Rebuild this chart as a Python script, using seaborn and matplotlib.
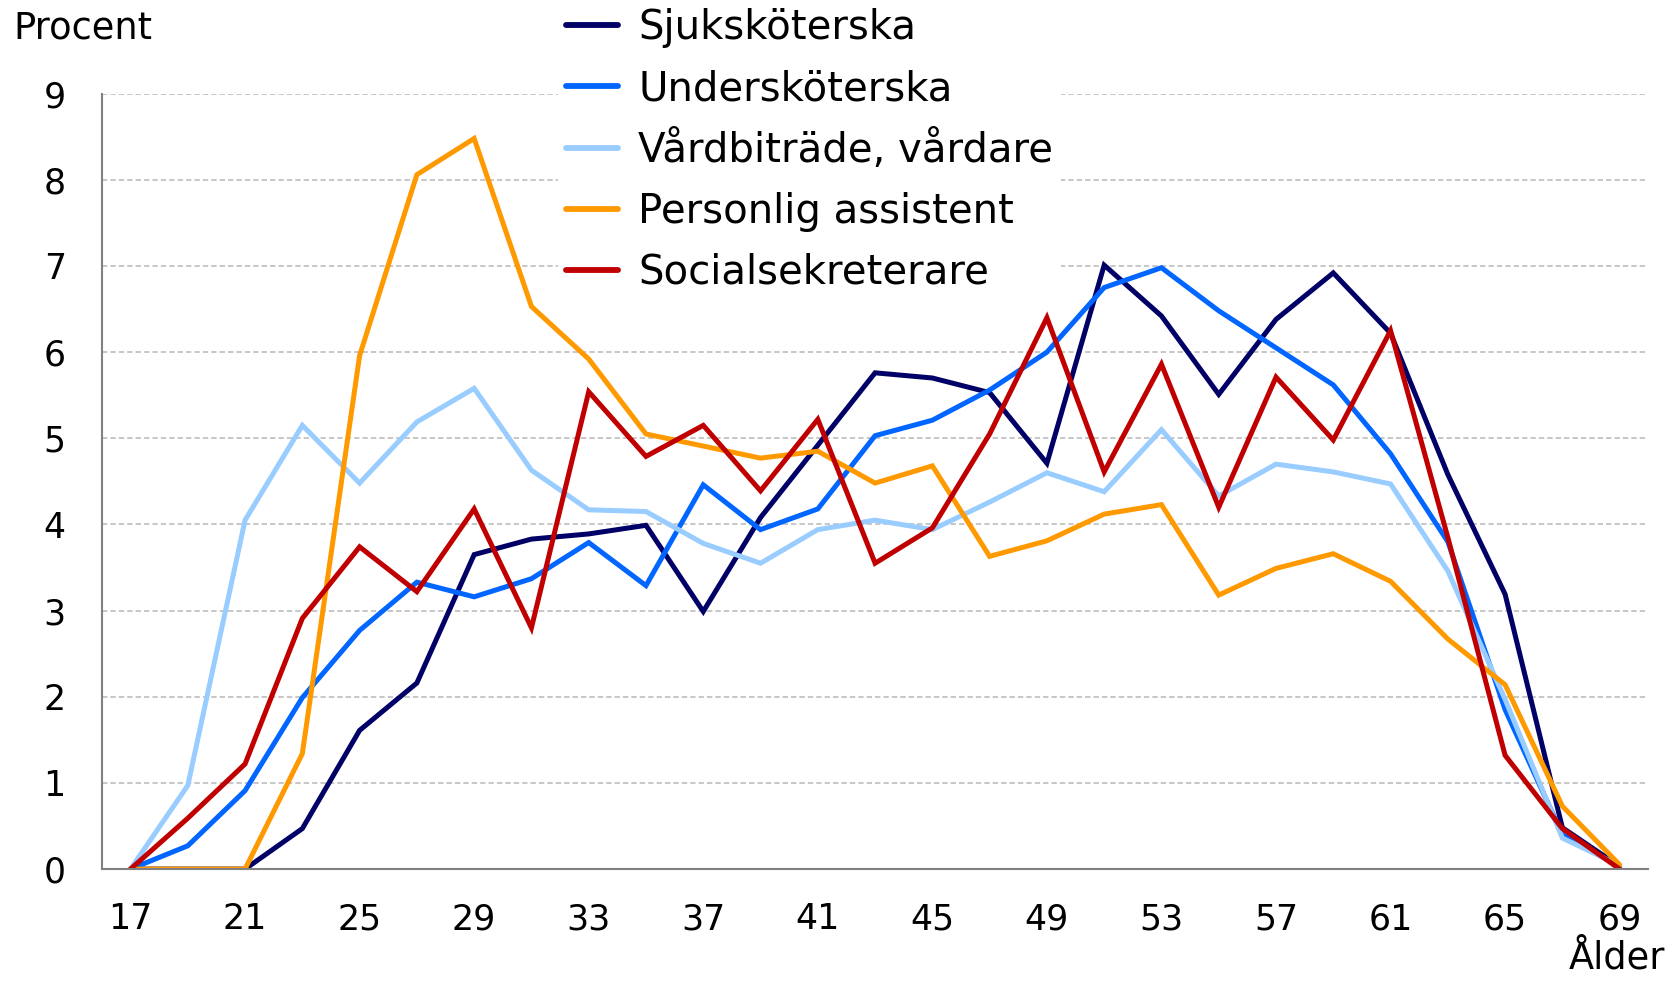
import numpy as np
import pandas as pd
import matplotlib
matplotlib.use("Agg")
import matplotlib.pyplot as plt
import seaborn as sns

ages = list(range(17, 70, 2))

sjukskoterska = [0, 0, 0, 0.47, 1.61, 2.16, 3.65, 3.83, 3.89, 3.99, 2.99, 4.08, 4.92, 5.76,
                 5.70, 5.53, 4.71, 7.01, 6.42, 5.51, 6.38, 6.92, 6.22, 4.58, 3.19, 0.48, 0.03]
underskoterska = [0, 0.27, 0.91, 1.99, 2.77, 3.33, 3.16, 3.37, 3.79, 3.29, 4.46, 3.94, 4.18, 5.03,
                  5.21, 5.56, 6.00, 6.75, 6.98, 6.48, 6.05, 5.62, 4.82, 3.80, 1.85, 0.40, 0.03]
vardbitrade = [0, 0.97, 4.05, 5.15, 4.48, 5.19, 5.58, 4.63, 4.17, 4.15, 3.78, 3.55, 3.94, 4.05,
               3.94, 4.26, 4.60, 4.38, 5.10, 4.33, 4.70, 4.61, 4.47, 3.46, 1.97, 0.36, 0.04]
personlig = [0, 0, 0, 1.34, 5.96, 8.06, 8.48, 6.53, 5.92, 5.05, 4.91, 4.77, 4.85, 4.48,
             4.68, 3.63, 3.81, 4.12, 4.23, 3.18, 3.49, 3.66, 3.34, 2.67, 2.14, 0.73, 0.05]
social = [0, 0.59, 1.22, 2.91, 3.74, 3.22, 4.18, 2.80, 5.54, 4.79, 5.15, 4.39, 5.22, 3.55,
          3.96, 5.05, 6.40, 4.61, 5.86, 4.20, 5.71, 4.98, 6.25, 3.85, 1.32, 0.47, 0.0]

series_names = ["Sjuksköterska", "Undersköterska", "Vårdbiträde, vårdare",
                "Personlig assistent", "Socialsekreterare"]
colors = ["#000066", "#0066FF", "#99CCFF", "#FF9900", "#C00000"]

df = pd.concat([
    pd.DataFrame({"Ålder": ages, "Procent": vals, "Yrke": name})
    for name, vals in zip(series_names, [sjukskoterska, underskoterska, vardbitrade, personlig, social])
])

sns.set_style("white")
plt.rcParams["font.family"] = ["DejaVu Sans"]
plt.rcParams["text.color"] = "black"
plt.rcParams["xtick.labelcolor"] = "black"
plt.rcParams["ytick.labelcolor"] = "black"

fig = plt.figure(figsize=(16.7, 9.82), dpi=100)
ax = fig.add_axes([0.061, 0.115, 0.926, 0.7896])

sns.lineplot(data=df, x="Ålder", y="Procent", hue="Yrke", hue_order=series_names,
             palette=colors, linewidth=3.6, ax=ax, legend=True)
for line in ax.get_lines():
    line.set_linewidth(3.6)
    line.set_solid_joinstyle("miter")

ax.set_xlim(16, 70)
ax.set_ylim(0, 9)
ax.set_xticks(range(17, 70, 4))
ax.set_xticks(range(16, 71, 2), minor=True)
ax.set_yticks(range(0, 10))
ax.tick_params(axis="x", which="major", length=0, pad=24, labelsize=25)
ax.tick_params(axis="x", which="minor", length=9, width=1.3, color="#808080", direction="out")
ax.tick_params(axis="y", which="major", length=6, width=1.3, color="#808080",
               direction="out", pad=20, labelsize=25)
ax.yaxis.grid(True, color="#b8b8b8", linestyle=(0, (3.5, 2)), linewidth=1.1)
ax.set_axisbelow(True)
for side in ["top", "right"]:
    ax.spines[side].set_visible(False)
for side in ["left", "bottom"]:
    ax.spines[side].set_color("#808080")
    ax.spines[side].set_linewidth(1.5)

ax.set_xlabel("")
ax.set_ylabel("")
fig.text(0.008, 0.971, "Procent", fontsize=26.5, ha="left", va="center")
fig.text(0.997, 0.006, "Ålder", fontsize=26.5, ha="right", va="bottom")

handles, labels = ax.get_legend_handles_labels()
leg = ax.legend(handles, labels, loc="upper left", bbox_to_anchor=(0.334, 1.0),
                bbox_transform=fig.transFigure, fontsize=29, frameon=True,
                facecolor="white", edgecolor="none", framealpha=1, fancybox=False,
                handlelength=1.3, handletextpad=0.5, labelspacing=0.52,
                borderpad=0.2, borderaxespad=0)
for line in leg.get_lines():
    line.set_linewidth(4.2)

fig.savefig("out.png", dpi=100)
